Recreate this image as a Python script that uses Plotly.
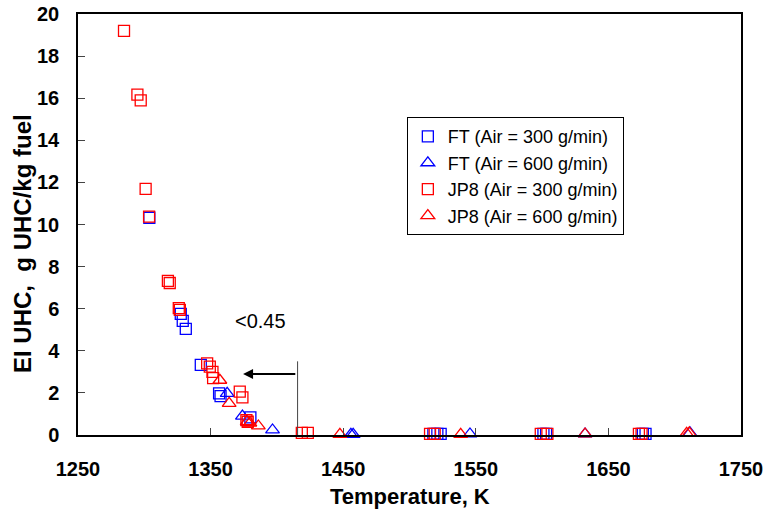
import plotly.graph_objects as go

# ---- data (Temperature K, EI UHC g/kg) ----
ft300_x = [1303.8, 1327.5, 1329.0, 1331.3, 1342.6, 1356.4, 1357.5, 1380.0,
           1518.0, 1521.0, 1523.5, 1601.0, 1603.0, 1676.0, 1678.0]
ft300_y = [10.32, 5.75, 5.42, 5.04, 3.33, 1.98, 1.85, 0.84,
           0.05, 0.05, 0.05, 0.05, 0.05, 0.05, 0.05]

ft600_x = [1362.5, 1374.0, 1396.7, 1455.8, 1457.5, 1545.6, 1632.4, 1711.5]
ft600_y = [1.98, 0.90, 0.24, 0.03, 0.03, 0.05, 0.05, 0.10]

jp8300_x = [1284.7, 1294.8, 1297.3, 1301.0, 1303.6, 1317.8, 1319.2, 1326.0,
            1326.8, 1347.4, 1349.4, 1351.4, 1351.9, 1372.0, 1374.0, 1377.0,
            1378.0, 1418.8, 1423.3, 1515.5, 1519.0, 1599.0, 1604.0, 1673.0,
            1675.0]
jp8300_y = [19.2, 16.17, 15.9, 11.69, 10.37, 7.32, 7.22, 6.03,
            5.94, 3.40, 3.25, 3.00, 2.70, 2.06, 1.79, 0.71,
            0.63, 0.10, 0.10, 0.05, 0.05, 0.05, 0.05, 0.05,
            0.05]

jp8600_x = [1357.0, 1364.0, 1377.6, 1379.6, 1386.0, 1447.5, 1538.6, 1632.4,
            1709.0, 1711.0]
jp8600_y = [2.60, 1.50, 0.63, 0.57, 0.43, 0.03, 0.03, 0.05, 0.08, 0.10]

x_ticks = [1250, 1350, 1450, 1550, 1650, 1750]
y_ticks = [0, 2, 4, 6, 8, 10, 12, 14, 16, 18, 20]

# annotation anchors (data coords)
limit_x = 1415.6
limit_top = 3.5
arrow_y = 2.9
arrow_head_x = 1374.5
label_x, label_y = 1387.9, 5.42

FONT = "Arial, Liberation Sans, sans-serif"

fig = go.Figure()
series = [
    ("FT (Air = 300 g/min)", ft300_x, ft300_y, "square-open", "blue", 11),
    ("FT (Air = 600 g/min)", ft600_x, ft600_y, "triangle-up-open", "blue", 12),
    ("JP8 (Air = 300 g/min)", jp8300_x, jp8300_y, "square-open", "red", 11),
    ("JP8 (Air = 600 g/min)", jp8600_x, jp8600_y, "triangle-up-open", "red", 12),
]
for name, xs, ys, sym, col, sz in series:
    fig.add_trace(go.Scatter(
        x=xs, y=ys, mode="markers", name=name, cliponaxis=False,
        marker=dict(symbol=sym, size=sz, color=col, line=dict(color=col, width=1.3)),
    ))

# vertical limit line
fig.add_shape(type="line", xref="x", yref="y", x0=limit_x, x1=limit_x,
              y0=0, y1=limit_top, line=dict(color="#444444", width=1))

# arrow
fig.add_annotation(x=arrow_head_x, y=arrow_y, ax=limit_x - 0.6, ay=arrow_y,
                   xref="x", yref="y", axref="x", ayref="y", text="",
                   showarrow=True, arrowhead=2, arrowsize=1, arrowwidth=2,
                   arrowcolor="black")
fig.add_annotation(x=label_x, y=label_y, xref="x", yref="y", text="<0.45",
                   showarrow=False, font=dict(family=FONT, size=20, color="black"))

# axis titles
fig.add_annotation(x=0.5, y=-0.145, xref="paper", yref="paper",
                   xanchor="center", yanchor="middle",
                   text="<b>Temperature, K</b>", showarrow=False,
                   font=dict(family=FONT, size=22, color="black"))
fig.add_annotation(x=-0.0845, y=0.456, xref="paper", yref="paper",
                   xanchor="center", yanchor="middle",
                   text="<b>EI UHC,  g UHC/kg fuel</b>", showarrow=False,
                   textangle=-90,
                   font=dict(family=FONT, size=24, color="black"))

fig.update_layout(
    width=774, height=510,
    margin=dict(l=78, r=33, t=14, b=75, autoexpand=False),
    paper_bgcolor="white", plot_bgcolor="white",
    font=dict(family=FONT, color="black"),
    showlegend=True,
    legend=dict(x=0.496, y=0.755, xanchor="left", yanchor="top",
                bgcolor="white", bordercolor="black", borderwidth=1,
                font=dict(family=FONT, size=18, color="black"),
                itemwidth=30),
)
fig.update_xaxes(range=[1250, 1750], tickvals=x_ticks, ticktext=[str(v) for v in x_ticks],
                 showgrid=False, zeroline=False, showline=True, linecolor="black",
                 linewidth=1.5, mirror=True, ticks="inside", ticklen=7,
                 tickcolor="#444444", ticklabelstandoff=15, automargin=False,
                 tickfont=dict(family=FONT, size=20, color="black", weight="bold"))
fig.update_yaxes(range=[0, 20], tickvals=y_ticks, ticktext=[str(v) for v in y_ticks],
                 showgrid=False, zeroline=False, showline=True, linecolor="black",
                 linewidth=1.5, mirror=True, ticks="inside", ticklen=7,
                 tickcolor="#444444", ticklabelstandoff=13, automargin=False,
                 tickfont=dict(family=FONT, size=20, color="black", weight="bold"))

fig.write_html("out.html")
